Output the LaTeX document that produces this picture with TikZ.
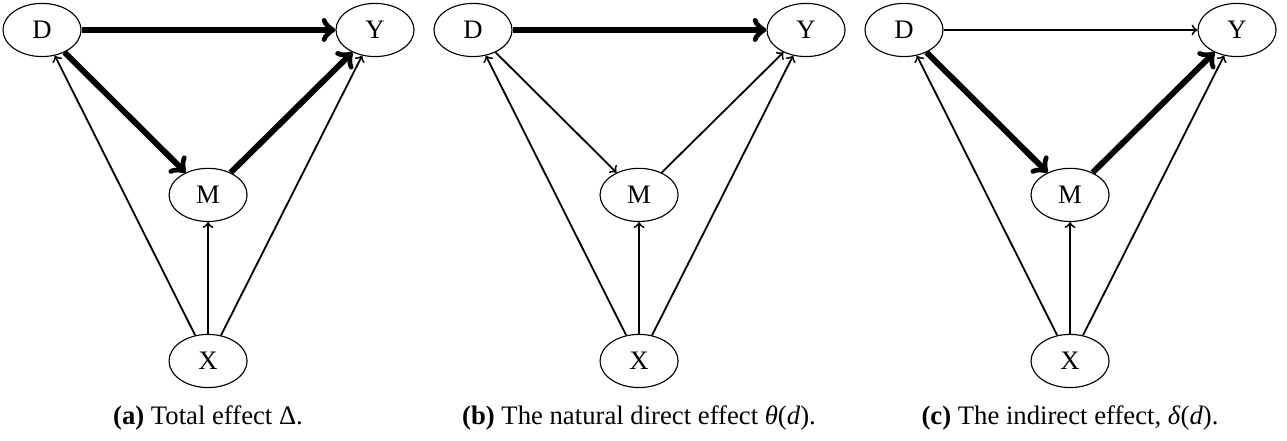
\documentclass[tikz,border=0pt]{standalone}
\usepackage{fontspec}
\setmainfont{Liberation Serif}
\usetikzlibrary{positioning,shapes.geometric}

\begin{document}
\begin{tikzpicture}[
    x=0.442pt, y=-0.442pt,
    on grid,
    font=\fontsize{11.8pt}{14pt}\selectfont,
    var/.style={ellipse, draw, line width=0.5pt, minimum width=34.5pt, minimum height=23.5pt, inner sep=0pt},
    weakarrow/.style={->, line width=0.8pt},
    strongarrow/.style={->, line width=2.6pt},
    caption/.style={anchor=base}
]
\useasboundingbox (0,0) rectangle (1287,441);

% --- (a) Total effect ---
\node[var] (Da) at (42,30) {D};
\node[var, right=147.2pt of Da] (Ya) {Y};
\node[var, below right=72.9pt and 73.4pt of Da] (Ma) {M};
\node[var, below=73.4pt of Ma] (Xa) {X};
\node[caption] (capa) at (208,425) {\textbf{(a)} Total effect Δ.};

\draw[strongarrow] (Da) -- (Ya);
\draw[strongarrow] (Da) -- (Ma);
\draw[strongarrow] (Ma) -- (Ya);
\draw[weakarrow] (Xa) -- (Da);
\draw[weakarrow] (Xa) -- (Ma);
\draw[weakarrow] (Xa) -- (Ya);

% --- (b) Natural direct effect ---
\node[var] (Db) at (473,30) {D};
\node[var, right=147.2pt of Db] (Yb) {Y};
\node[var, below right=72.9pt and 73.4pt of Db] (Mb) {M};
\node[var, below=73.4pt of Mb] (Xb) {X};
\node[caption] (capb) at (639,425) {\textbf{(b)} The natural direct effect \textit{θ}(\textit{d}).};

\draw[strongarrow] (Db) -- (Yb);
\draw[weakarrow] (Db) -- (Mb);
\draw[weakarrow] (Mb) -- (Yb);
\draw[weakarrow] (Xb) -- (Db);
\draw[weakarrow] (Xb) -- (Mb);
\draw[weakarrow] (Xb) -- (Yb);

% --- (c) Indirect effect ---
\node[var] (Dc) at (904,30) {D};
\node[var, right=147.2pt of Dc] (Yc) {Y};
\node[var, below right=72.9pt and 73.4pt of Dc] (Mc) {M};
\node[var, below=73.4pt of Mc] (Xc) {X};
\node[caption] (capc) at (1070,425) {\textbf{(c)} The indirect effect, \textit{δ}(\textit{d}).};

\draw[weakarrow] (Dc) -- (Yc);
\draw[strongarrow] (Dc) -- (Mc);
\draw[strongarrow] (Mc) -- (Yc);
\draw[weakarrow] (Xc) -- (Dc);
\draw[weakarrow] (Xc) -- (Mc);
\draw[weakarrow] (Xc) -- (Yc);

\end{tikzpicture}
\end{document}
